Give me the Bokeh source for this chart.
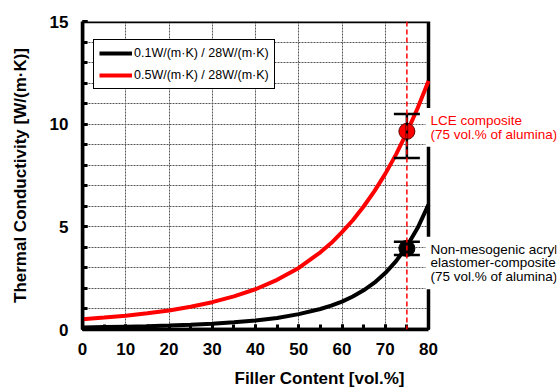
from bokeh.plotting import figure
from bokeh.models import (FixedTicker, Legend, LegendItem, Span, Whisker, TeeHead,
                          Label, ColumnDataSource, Range1d)
from bokeh.embed import file_html
from bokeh.resources import INLINE

# ---- data ----
filler = [0, 5, 10, 15, 20, 25, 30, 35, 40, 45, 50, 55, 57.5, 60, 62.5, 65,
          67.5, 70, 72.5, 75, 77.5, 80]
tc_matrix05 = [0.50, 0.58, 0.67, 0.79, 0.93, 1.11, 1.33, 1.61, 1.96, 2.42, 3.00,
               3.76, 4.21, 4.74, 5.32, 5.99, 6.74, 7.58, 8.53, 9.60, 10.79, 12.10]
tc_matrix01 = [0.10, 0.12, 0.14, 0.16, 0.19, 0.23, 0.28, 0.35, 0.44, 0.56, 0.75,
               1.00, 1.16, 1.36, 1.61, 1.91, 2.28, 2.75, 3.33, 4.05, 4.95, 6.08]
series_labels = ["0.1W/(m·K) / 28W/(m·K)", "0.5W/(m·K) / 28W/(m·K)"]

meas_x = [75, 75]
meas_y = [9.65, 3.95]
meas_lo = [8.35, 3.63]
meas_hi = [10.50, 4.27]
meas_labels = ["LCE composite\n(75 vol.% of alumina)",
               "Non-mesogenic acryl\nelastomer-composite\n(75 vol.% of alumina)"]

x_ticks = [0, 10, 20, 30, 40, 50, 60, 70, 80]
y_ticks = [0, 5, 10, 15]

FONT = "Liberation Sans"

# ---- layout (pixels) ----
W, H = 558, 392
LEFT, TOP, BOTTOM, RIGHT = 82, 21, 63, 2
AXES_W = 346                      # width of the 0..80 plotting box
frame_w = W - LEFT - RIGHT
x0, x1 = x_ticks[0], x_ticks[-1]
x_view_max = x0 + (x1 - x0) * frame_w / AXES_W   # room for the notes on the right
y0, y1 = y_ticks[0], y_ticks[-1]

p = figure(width=W, height=H, x_range=Range1d(x0, x_view_max), y_range=Range1d(y0, y1),
           output_backend="svg", toolbar_location=None,
           min_border_left=LEFT, min_border_right=RIGHT, min_border_top=TOP,
           min_border_bottom=BOTTOM, background_fill_color="white",
           border_fill_color="white")
p.outline_line_color = None

# grid
p.xgrid.ticker = FixedTicker(ticks=x_ticks[1:-1])
p.ygrid.ticker = FixedTicker(ticks=list(range(y0 + 1, y1)))
for g in (p.xgrid[0], p.ygrid[0]):
    g.grid_line_color = "#555555"
    g.grid_line_dash = "2 1"
    g.grid_line_width = 1

# white area right of the plotting box (hides grid there)
p.quad(left=[x1], right=[x_view_max], bottom=[y0], top=[y1],
       fill_color="white", line_color=None)

# axes
p.xaxis.ticker = FixedTicker(ticks=x_ticks, minor_ticks=list(range(x0, x1 + 1, 5)))
p.yaxis.ticker = FixedTicker(ticks=y_ticks, minor_ticks=list(range(y0, y1 + 1)))
p.xaxis.bounds = (x0, x1)
p.xaxis.axis_label = "Filler Content [vol.%]"
p.yaxis.axis_label = "Thermal Conductivity [W/(m·K)]"
for ax in (p.xaxis[0], p.yaxis[0]):
    ax.axis_line_width = 3.5
    ax.axis_line_color = "black"
    ax.major_tick_in = 5
    ax.major_tick_out = 0
    ax.minor_tick_in = 5
    ax.minor_tick_out = 0
    ax.major_tick_line_width = 3
    ax.minor_tick_line_width = 3
    ax.major_label_text_font = FONT
    ax.major_label_text_font_style = "bold"
    ax.major_label_text_font_size = "17px"
    ax.major_label_text_color = "black"
    ax.axis_label_text_font = FONT
    ax.axis_label_text_font_style = "bold"
    ax.axis_label_text_font_size = "17px"
    ax.axis_label_text_color = "black"
p.xaxis.major_label_standoff = 13
p.xaxis.axis_label_standoff = 11
p.yaxis.major_label_standoff = 14
p.yaxis.axis_label_standoff = 17

# vertical dashed line at the measured composition
p.add_layout(Span(location=meas_x[0], dimension="height", line_color="red",
                  line_dash="5 3", line_width=1.5))

# box top / right edges
p.quad(left=[x0], right=[x1], bottom=[y0], top=[y1], fill_color=None,
       line_color="black", line_width=3.5)

# model curves
r_black = p.line(filler, tc_matrix01, line_color="black", line_width=4)
r_red = p.line(filler, tc_matrix05, line_color="red", line_width=4)

# measured points with error bars
src = ColumnDataSource(dict(x=meas_x, y=meas_y, lo=meas_lo, hi=meas_hi))
p.add_layout(Whisker(base="x", lower="lo", upper="hi", source=src,
                     line_color="black", line_width=2.5, level="glyph",
                     upper_head=TeeHead(size=26, line_width=2.5, line_color="black"),
                     lower_head=TeeHead(size=26, line_width=2.5, line_color="black")))
p.scatter(meas_x[:1], meas_y[:1], size=16, fill_color="red", line_color="#600000",
          line_width=1)
p.scatter(meas_x[1:], meas_y[1:], size=16, fill_color="black", line_color="black",
          line_width=1)

# notes next to the points
p.add_layout(Label(x=x1 - 0.7, y=meas_hi[0] + 0.29, text=meas_labels[0],
                   text_color="red", text_font=FONT, text_font_size="13.5px",
                   text_baseline="top", text_align="left", text_line_height=0.92,
                   background_fill_color="white", padding=5))
p.add_layout(Label(x=x1 - 0.7, y=meas_hi[1] + 0.25, text=meas_labels[1],
                   text_color="black", text_font=FONT, text_font_size="13.5px",
                   text_baseline="top", text_align="left", text_line_height=0.92,
                   background_fill_color="white", padding=5))

legend = Legend(items=[LegendItem(label=series_labels[0], renderers=[r_black]),
                       LegendItem(label=series_labels[1], renderers=[r_red])],
                location=(11, 240), padding=5, spacing=6, glyph_height=16,
                label_height=16, glyph_width=33, label_standoff=2,
                label_text_font=FONT, label_text_font_size="12.5px",
                label_text_color="black", border_line_color="black",
                border_line_width=1, border_line_alpha=1,
                background_fill_color="white", background_fill_alpha=1)
p.add_layout(legend)

open("out.html", "w").write(file_html(p, INLINE))
